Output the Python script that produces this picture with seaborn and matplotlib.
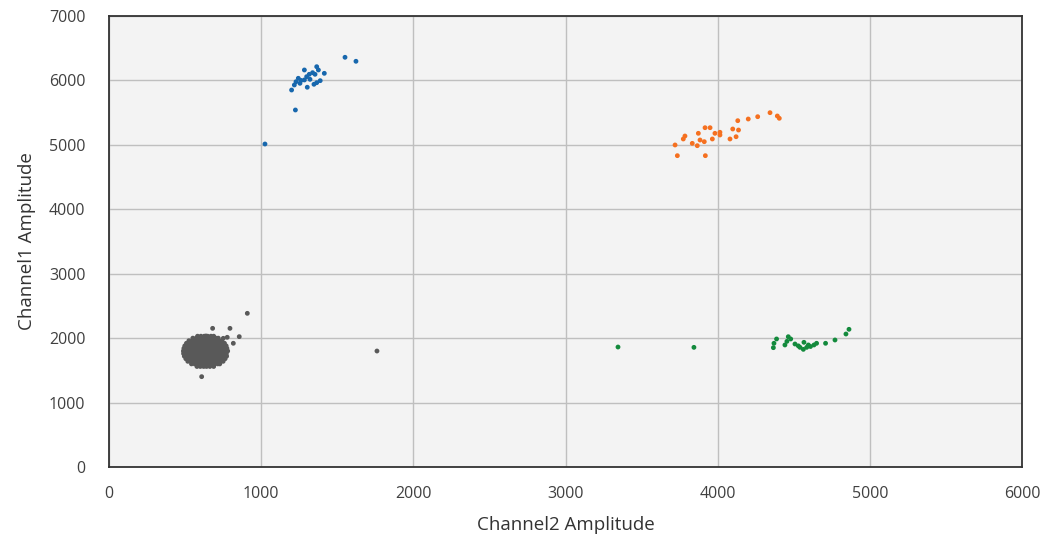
import pandas as pd
import numpy as np
import matplotlib
matplotlib.use("Agg")
import matplotlib.pyplot as plt
import seaborn as sns

# droplet amplitudes
blue_x = [1551, 1623, 1284, 1365, 1376, 1415, 1316, 1354, 1244, 1299, 1284, 1229, 1255,
          1388, 1365, 1347, 1218, 1303, 1200, 1225, 1025, 1321, 1338, 1262]
blue_y = [6359, 6297, 6162, 6213, 6162, 6110, 6095, 6095, 6033, 6058, 6007, 5980, 5955,
          5996, 5965, 5940, 5929, 5894, 5851, 5541, 5013, 6017, 6120, 6000]

orange_x = [3720, 3735, 3774, 3785, 3833, 3866, 3873, 3884, 3912, 3917, 3919, 3950, 3965,
            3982, 4015, 4015, 4081, 4099, 4121, 4132, 4137, 4201, 4263, 4344, 4392, 4405]
orange_y = [4998, 4832, 5091, 5137, 5023, 4987, 5179, 5075, 5049, 5266, 4832, 5266, 5091,
            5179, 5195, 5153, 5091, 5246, 5126, 5375, 5230, 5401, 5437, 5499, 5448, 5412]

green_x = [3345, 3844, 4366, 4370, 4387, 4442, 4464, 4480, 4508, 4541, 4567, 4563, 4585,
           4596, 4633, 4650, 4709, 4771, 4843, 4863, 4455, 4530, 4610]
green_y = [1862, 1857, 1852, 1920, 1987, 1894, 2022, 1987, 1909, 1857, 1935, 1826, 1857,
           1894, 1894, 1920, 1920, 1971, 2064, 2137, 1950, 1880, 1870]

# dense negative cluster, read row by row
gray_rows_y = [1560, 1600, 1640, 1680, 1720, 1760, 1800, 1840, 1880, 1920, 1960, 2000, 2030]
gray_rows_x = [
    [578, 600, 622, 641, 663, 688],
    [542, 563, 585, 606, 627, 650, 671, 693, 714, 728],
    [518, 540, 561, 583, 604, 626, 648, 669, 690, 712, 733, 750],
    [505, 527, 548, 570, 592, 613, 635, 656, 678, 699, 721, 742, 763],
    [495, 517, 538, 560, 581, 603, 625, 646, 668, 689, 711, 732, 754, 773],
    [490, 512, 533, 555, 577, 598, 620, 641, 663, 685, 706, 728, 749, 771],
    [489, 510, 532, 554, 575, 597, 618, 640, 662, 683, 705, 726, 748, 769, 780],
    [492, 513, 535, 556, 578, 600, 621, 643, 664, 686, 708, 729, 751, 775],
    [498, 520, 541, 563, 584, 606, 628, 649, 671, 692, 714, 735, 757, 770],
    [509, 531, 552, 574, 595, 617, 639, 660, 682, 703, 725, 746, 759],
    [525, 547, 568, 590, 611, 633, 655, 676, 698, 719, 741],
    [551, 573, 594, 616, 637, 659, 681, 702, 718],
    [582, 604, 626, 648, 670, 688],
]
gray_out_x = [909, 681, 795, 637, 664, 751, 777, 856, 817, 609, 1761]
gray_out_y = [2385, 2152, 2152, 2033, 2013, 1997, 2013, 2023, 1920, 1402, 1800]

gray_x = [x for row in gray_rows_x for x in row] + gray_out_x
gray_y = [y for y, row in zip(gray_rows_y, gray_rows_x) for _ in row] + gray_out_y

df = pd.concat([
    pd.DataFrame({"ch2": gray_x, "ch1": gray_y, "cluster": "neg"}),
    pd.DataFrame({"ch2": blue_x, "ch1": blue_y, "cluster": "ch1"}),
    pd.DataFrame({"ch2": orange_x, "ch1": orange_y, "cluster": "both"}),
    pd.DataFrame({"ch2": green_x, "ch1": green_y, "cluster": "ch2"}),
])

colors = {"neg": "#595959", "ch1": "#1767ad", "both": "#f57020", "ch2": "#138a3c"}

sns.set_style("white")
plt.rcParams["font.family"] = ["Open Sans", "DejaVu Sans"]

fig = plt.figure(figsize=(10.45, 5.4), dpi=100)
ax = fig.add_axes([0.1043, 0.1352, 0.8737, 0.8352])
ax.set_facecolor("#f3f3f3")

sns.scatterplot(data=df, x="ch2", y="ch1", hue="cluster", palette=colors,
                s=12, linewidth=0, legend=False, ax=ax, zorder=3)

ax.set_xlim(0, 6000)
ax.set_ylim(0, 7000)
ax.set_xticks(range(0, 6001, 1000))
ax.set_yticks(range(0, 7001, 1000))
ax.grid(True, color="#bfbfbf", linewidth=1)
ax.set_axisbelow(True)

for s in ax.spines.values():
    s.set_color("#333333")
    s.set_linewidth(1.3)

ax.tick_params(axis="y", length=14, width=1, color="#bfbfbf", labelsize=11.5,
               labelcolor="#404040", pad=3)
ax.tick_params(axis="x", length=0, labelsize=11.5, labelcolor="#404040", pad=14)

ax.set_xlabel("Channel2 Amplitude", fontsize=13.5, color="#333333", labelpad=10)
ax.set_ylabel("Channel1 Amplitude", fontsize=13.5, color="#333333", labelpad=9)

fig.savefig("out.png", dpi=100)
